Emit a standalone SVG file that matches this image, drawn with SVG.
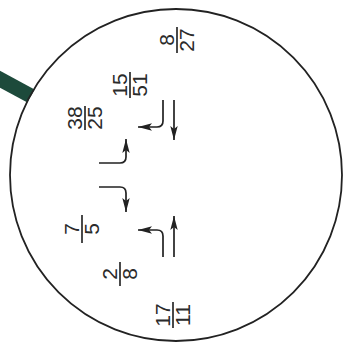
<svg xmlns="http://www.w3.org/2000/svg" width="344" height="350" viewBox="0 0 344 350">
<defs>
<style>
.frac{font-family:"Liberation Sans",Arial,sans-serif;font-size:21px;fill:#2a2a2a;text-anchor:middle}
.bar{stroke:#2a2a2a;stroke-width:1.7}
.arr{fill:none;stroke:#222;stroke-width:1.7;marker-end:url(#ah)}
</style>
<marker id="ah" viewBox="0 0 14 8" refX="14" refY="4" markerWidth="14" markerHeight="8" markerUnits="userSpaceOnUse" orient="auto">
<path d="M0,0.3 L14,4 L0,7.7 L3,4 Z" fill="#222"/>
</marker>
</defs>
<rect width="344" height="350" fill="#fff"/>
<g id="handle"><line x1="-4" y1="77" x2="31" y2="96" stroke="#1d4a3b" stroke-width="15"/></g>
<g id="lens"><circle cx="176" cy="175" r="166" fill="none" stroke="#222" stroke-width="1.8"/></g>
<g id="f8_27" transform="translate(177,40) rotate(-90)"><text class="frac" x="0" y="-3">8</text><text class="frac" x="0" y="17">27</text><line class="bar" x1="-13" y1="0" x2="13" y2="0"/></g>
<g id="f15_51" transform="translate(130,85) rotate(-90)"><text class="frac" x="0" y="-3">15</text><text class="frac" x="0" y="17">51</text><line class="bar" x1="-13" y1="0" x2="13" y2="0"/></g>
<g id="f38_25" transform="translate(85,118) rotate(-90)"><text class="frac" x="0" y="-3">38</text><text class="frac" x="0" y="17">25</text><line class="bar" x1="-12" y1="0" x2="12" y2="0"/></g>
<g id="f7_5" transform="translate(82,229) rotate(-90)"><text class="frac" x="0" y="-3">7</text><text class="frac" x="0" y="17">5</text><line class="bar" x1="-14" y1="0" x2="14" y2="0"/></g>
<g id="f2_8" transform="translate(120,274) rotate(-90)"><text class="frac" x="0" y="-3">2</text><text class="frac" x="0" y="17">8</text><line class="bar" x1="-12" y1="0" x2="12" y2="0"/></g>
<g id="f17_11" transform="translate(173,315) rotate(-90)"><text class="frac" x="0" y="-3">17</text><text class="frac" x="0" y="17">11</text><line class="bar" x1="-13" y1="0" x2="13" y2="0"/></g>
<g id="connectors">
<path class="arr" d="M163,100 V121 Q163,127 157,127 H138"/>
<path class="arr" d="M174,100 V140"/>
<path class="arr" d="M99,163 H120 Q126,163 126,157 V139"/>
<path class="arr" d="M99,187 H120 Q126,187 126,193 V212"/>
<path class="arr" d="M163,257 V236 Q163,230 157,230 H138"/>
<path class="arr" d="M174,257 V216"/>
</g>
</svg>
